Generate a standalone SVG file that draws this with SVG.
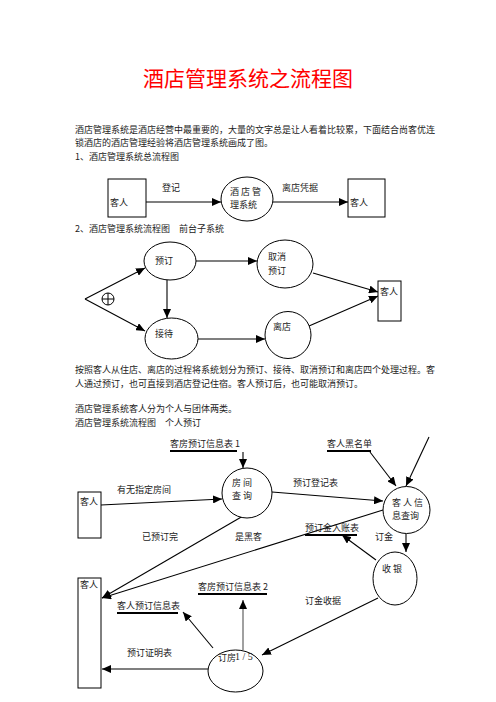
<svg xmlns="http://www.w3.org/2000/svg" width="496" height="702" viewBox="0 0 496 702">
<style>
text{font-family:"Noto Sans CJK SC","Liberation Serif",sans-serif;font-size:9px;fill:#222}
.title{font-size:21px;fill:#ff0000}
.num{font-family:"Liberation Serif",serif;font-size:10px}
.shape{fill:#fff;stroke:#000;stroke-width:1}
.ln{fill:none;stroke:#000;stroke-width:1.1}
.ul{stroke:#000;stroke-width:2}
</style>
<defs>
<marker id="ah" markerUnits="userSpaceOnUse" markerWidth="10" markerHeight="8" refX="9" refY="4" orient="auto"><path d="M0,0 L9,4 L0,8 z" fill="#000"/></marker>
<marker id="ahg" markerUnits="userSpaceOnUse" markerWidth="10" markerHeight="8" refX="9" refY="4" orient="auto"><path d="M0,0 L9,4 L0,8 z" fill="#000"/></marker>
</defs>
<rect width="496" height="702" fill="#fff"/>
<text class="title" x="248" y="86" text-anchor="middle">酒店管理系统之流程图</text>
<g id="intro">
<text x="75" y="133">酒店管理系统是酒店经营中最重要的，大量的文字总是让人看着比较累，下面结合尚客优连</text>
<text x="75" y="146">锁酒店的酒店管理经验将酒店管理系统画成了图。</text>
<text x="75" y="160">1、酒店管理系统总流程图</text>
<text x="75" y="232">2、酒店管理系统流程图　前台子系统</text>
<text x="75" y="373">按照客人从住店、离店的过程将系统划分为预订、接待、取消预订和离店四个处理过程。客</text>
<text x="75" y="387">人通过预订，也可直接到酒店登记住宿。客人预订后，也可能取消预订。</text>
<text x="75" y="412">酒店管理系统客人分为个人与团体两类。</text>
<text x="75" y="426">酒店管理系统流程图　个人预订</text>
</g>
<g id="connectors">
<!-- chart 1 -->
<line class="ln" x1="146" y1="202" x2="221" y2="202" marker-end="url(#ah)"/>
<line class="ln" x1="273" y1="202" x2="348" y2="202" marker-end="url(#ah)"/>
<!-- chart 2 -->
<line class="ln" x1="85" y1="299" x2="145" y2="268" marker-end="url(#ah)"/>
<line class="ln" x1="85" y1="299" x2="145" y2="331" marker-end="url(#ah)"/>
<line class="ln" x1="196" y1="261" x2="257" y2="261" marker-end="url(#ah)"/>
<line class="ln" x1="167" y1="280" x2="167" y2="318" marker-end="url(#ah)"/>
<line class="ln" x1="198" y1="339" x2="265" y2="339" marker-end="url(#ah)"/>
<line class="ln" x1="313" y1="273" x2="378" y2="292" marker-end="url(#ah)"/>
<line class="ln" x1="309" y1="326" x2="378" y2="296" marker-end="url(#ah)"/>
<!-- chart 3 -->
<line class="ul" x1="170" y1="451" x2="237" y2="451"/>
<line class="ul" x1="327" y1="451" x2="371" y2="451"/>
<line class="ul" x1="305" y1="535" x2="357" y2="535"/>
<line class="ul" x1="198" y1="594" x2="267" y2="594"/>
<line class="ul" x1="117" y1="613" x2="178" y2="613"/>
<line class="ln" x1="243" y1="452" x2="243" y2="468" marker-end="url(#ah)"/>
<line class="ln" x1="101" y1="505" x2="222" y2="499" marker-end="url(#ah)"/>
<line class="ln" x1="272" y1="492" x2="383" y2="501" marker-end="url(#ah)"/>
<line class="ln" x1="370" y1="452" x2="396" y2="486" marker-end="url(#ah)"/>
<line class="ln" x1="429" y1="437" x2="406" y2="486" marker-end="url(#ah)"/>
<line class="ln" x1="243" y1="516" x2="102" y2="598" marker-end="url(#ah)"/>
<line class="ln" x1="383" y1="510" x2="102" y2="598" marker-end="url(#ah)"/>
<line class="ln" x1="406" y1="534" x2="406" y2="552" marker-end="url(#ah)"/>
<line class="ln" x1="376" y1="560" x2="342" y2="535" marker-end="url(#ah)"/>
<line class="ln" x1="378" y1="598" x2="262" y2="655" marker-end="url(#ah)"/>
<line x1="243" y1="650" x2="243" y2="600" stroke="#808080" stroke-width="1.5" marker-end="url(#ahg)"/>
<line class="ln" x1="213" y1="648" x2="183" y2="612" marker-end="url(#ah)"/>
<line class="ln" x1="208" y1="669" x2="102" y2="669" marker-end="url(#ah)"/>
</g>
<g id="labels">
<text x="162" y="191">登记</text>
<text x="282" y="191">离店凭据</text>
<text x="170" y="447">客房预订信息表 1</text>
<text x="327" y="447">客人黑名单</text>
<text x="117" y="493">有无指定房间</text>
<text x="293" y="486">预订登记表</text>
<text x="142" y="540">已预订完</text>
<text x="235" y="540">是黑客</text>
<text x="305" y="531">预订金入账表</text>
<text x="375" y="540">订金</text>
<text x="305" y="604">订金收据</text>
<text x="198" y="590">客房预订信息表 2</text>
<text x="117" y="609">客人预订信息表</text>
<text x="127" y="656">预订证明表</text>
</g>
<!-- chart 1 nodes -->
<g id="c1-guest1"><rect class="shape" x="108" y="179" width="38" height="38"/><text x="110" y="206">客人</text></g>
<g id="c1-system"><ellipse class="shape" cx="247" cy="199" rx="26" ry="22"/><text x="230" y="195">酒 店 管</text><text x="230" y="208">理系统</text></g>
<g id="c1-guest2"><rect class="shape" x="348" y="179" width="37" height="38"/><text x="350" y="206">客人</text></g>
<!-- chart 2 nodes -->
<g id="c2-split"><circle cx="108" cy="299" r="6" fill="#fff" stroke="#000"/><line x1="102" y1="299" x2="114" y2="299" stroke="#000"/><line x1="108" y1="293" x2="108" y2="305" stroke="#000"/></g>
<g id="c2-reserve"><ellipse class="shape" cx="170" cy="261" rx="26" ry="19"/><text x="155" y="264">预订</text></g>
<g id="c2-cancel"><ellipse class="shape" cx="285" cy="264" rx="28" ry="24"/><text x="268" y="260">取消</text><text x="268" y="274">预订</text></g>
<g id="c2-reception"><ellipse class="shape" cx="171.5" cy="338.5" rx="26.5" ry="20.5"/><text x="155" y="337">接待</text></g>
<g id="c2-checkout"><ellipse class="shape" cx="288" cy="335" rx="23" ry="23.5"/><text x="273" y="330">离店</text></g>
<g id="c2-guest"><rect class="shape" x="378" y="281" width="23" height="40"/><text x="380" y="295">客人</text></g>
<!-- chart 3 nodes -->
<g id="c3-room-query"><circle class="shape" cx="247" cy="493" r="25"/><text x="232" y="486">房 间</text><text x="232" y="499">查 询</text></g>
<g id="c3-guest-top"><rect class="shape" x="78" y="492" width="23" height="46"/><text x="80" y="505">客人</text></g>
<g id="c3-guest-info"><circle class="shape" cx="406.5" cy="510" r="23.5"/><text x="392" y="506">客 人 信</text><text x="392" y="519">息查询</text></g>
<g id="c3-cashier"><ellipse class="shape" cx="395" cy="578.5" rx="22" ry="26.5"/><text x="382" y="572">收 银</text></g>
<g id="c3-guest-bottom"><rect class="shape" x="78" y="578" width="23" height="110"/><text x="80" y="588">客人</text></g>
<g id="c3-booking"><ellipse class="shape" cx="235.5" cy="671" rx="27.5" ry="21"/><text x="218" y="661">订房</text><text class="num" x="235" y="660">1 / 5</text></g>
</svg>
